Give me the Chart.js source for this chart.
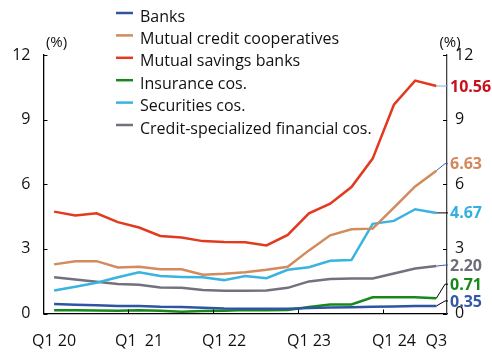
<!DOCTYPE html>
<html>
<head>
<meta charset="utf-8">
<script src="https://cdn.jsdelivr.net/npm/chart.js@4/dist/chart.umd.min.js"></script>
<style>
    html, body { margin: 0; padding: 0; background: #fff; }
    #wrap { width: 492px; height: 353px; }
</style>
</head>
<body>
<div id="wrap"><canvas id="chart" width="492" height="353"></canvas></div>
<script>
// Quarters from Q1 2020 to Q3 2024, only some are labelled
const quarters = ['Q1 20', '', '', '', 'Q1  21', '', '', '', 'Q1 22', '', '', '', 'Q1 23', '', '', '', 'Q1 24', '', 'Q3'];

const seriesNames = [
    'Banks',
    'Mutual credit cooperatives',
    'Mutual savings banks',
    'Insurance cos.',
    'Securities cos.',
    'Credit-specialized financial cos.'
];

// Values in %
const banks = [0.44, 0.41, 0.38, 0.35, 0.35, 0.31, 0.30, 0.27, 0.23, 0.22, 0.22, 0.22, 0.25, 0.28, 0.29, 0.31, 0.32, 0.35, 0.35];
const mutualCredit = [2.28, 2.43, 2.43, 2.14, 2.17, 2.05, 2.05, 1.80, 1.84, 1.92, 2.03, 2.17, 2.93, 3.63, 3.91, 3.94, 4.92, 5.90, 6.63];
const mutualSavings = [4.73, 4.55, 4.65, 4.24, 3.99, 3.60, 3.53, 3.36, 3.32, 3.31, 3.16, 3.65, 4.65, 5.10, 5.87, 7.19, 9.69, 10.81, 10.56];
const insurance = [0.15, 0.15, 0.14, 0.13, 0.15, 0.13, 0.08, 0.12, 0.13, 0.16, 0.15, 0.16, 0.30, 0.42, 0.42, 0.75, 0.75, 0.75, 0.71];
const securities = [1.07, 1.24, 1.43, 1.68, 1.91, 1.74, 1.70, 1.68, 1.55, 1.74, 1.64, 2.03, 2.15, 2.45, 2.48, 4.16, 4.30, 4.84, 4.67];
const creditSpecialized = [1.68, 1.58, 1.47, 1.37, 1.33, 1.21, 1.19, 1.09, 1.06, 1.06, 1.07, 1.19, 1.49, 1.60, 1.63, 1.63, 1.86, 2.09, 2.20];

const endLabels = ['0.35', '6.63', '10.56', '0.71', '4.67', '2.20'];
const yTicks = [0, 3, 6, 9, 12];

const seriesData = [banks, mutualCredit, mutualSavings, insurance, securities, creditSpecialized];
const lineColors = ['#2f55a2', '#d38a5c', '#e2391f', '#17891a', '#3ab3e0', '#72717d'];
const labelColors = ['#3458a6', '#d3875a', '#c7111b', '#17891a', '#34afe0', '#6e6d79'];
const connectorColors = ['#000', '#3a5fb0', '#8fa8d0', '#000', '#000', '#3a5fb0'];
const labelNudge = [-5, -7, 0, -14, 0, -1];   // px, to keep end labels apart

const FONT = '"Open Sans", "Noto Sans", sans-serif';

// Legend drawn over the plot, top left
const overlayLegend = {
    id: 'overlayLegend',
    afterDraw(chart) {
        const ctx = chart.ctx;
        ctx.save();
        ctx.font = '16px ' + FONT;
        ctx.fillStyle = '#111';
        ctx.textBaseline = 'alphabetic';
        ctx.textAlign = 'left';
        chart.data.datasets.forEach((ds, i) => {
            const y = 13 + i * 22.4;
            ctx.strokeStyle = ds.borderColor;
            ctx.lineWidth = 2.5;
            ctx.beginPath();
            ctx.moveTo(116, y);
            ctx.lineTo(133, y);
            ctx.stroke();
            ctx.fillText(ds.label, 140, y + 8.5);
        });
        ctx.restore();
    }
};

// Inward tick marks, unit labels, end labels with connectors
const axisDecor = {
    id: 'axisDecor',
    afterDraw(chart) {
        const ctx = chart.ctx;
        const x = chart.scales.x;
        const y = chart.scales.y;
        const area = chart.chartArea;
        ctx.save();
        ctx.strokeStyle = '#000';
        ctx.lineWidth = 1;
        ctx.beginPath();
        yTicks.forEach(v => {
            const py = Math.round(y.getPixelForValue(v)) + 0.5;
            ctx.moveTo(area.left, py);
            ctx.lineTo(area.left + 4, py);
            ctx.moveTo(area.right - 4, py);
            ctx.lineTo(area.right, py);
        });
        quarters.forEach((q, i) => {
            if (i > 0 && q.startsWith('Q1')) {
                const px = Math.round((x.getPixelForValue(i - 1) + x.getPixelForValue(i)) / 2) + 0.5;
                ctx.moveTo(px, area.bottom);
                ctx.lineTo(px, area.bottom - 4);
            }
        });
        ctx.stroke();

        ctx.fillStyle = '#111';
        ctx.font = '15px ' + FONT;
        ctx.textAlign = 'center';
        ctx.textBaseline = 'middle';
        ctx.fillText('(%)', area.left + 13, 43);
        ctx.fillText('(%)', area.right + 3, 43);

        const last = quarters.length - 1;
        const lastX = x.getPixelForValue(last);
        ctx.font = 'bold 16px ' + FONT;
        ctx.textAlign = 'left';
        seriesData.forEach((arr, i) => {
            const vy = y.getPixelForValue(arr[last]);
            const ly = vy + labelNudge[i];
            ctx.strokeStyle = connectorColors[i];
            ctx.lineWidth = 1;
            ctx.beginPath();
            ctx.moveTo(lastX, vy);
            ctx.lineTo(area.right - 2, ly);
            ctx.lineTo(area.right + 1, ly);
            ctx.stroke();
            ctx.fillStyle = labelColors[i];
            ctx.fillText(endLabels[i], area.right + 3, ly + 1);
        });
        ctx.restore();
    }
};

function yAxis(position, width, color) {
    return {
        position: position,
        min: 0,
        max: 12,
        afterBuildTicks: scale => { scale.ticks = yTicks.map(v => ({ value: v })); },
        afterFit: scale => { scale.width = width; },
        grid: { display: false, drawTicks: false },
        border: { display: true, color: color, width: 1.3 },
        ticks: {
            padding: position === 'left' ? 13 : 8,
            color: '#111',
            font: { family: FONT, size: 16 }
        }
    };
}

document.addEventListener('DOMContentLoaded', function() {
    const ctx = document.getElementById('chart').getContext('2d');
    new Chart(ctx, {
        type: 'line',
        data: {
            labels: quarters,
            datasets: seriesData.map((arr, i) => ({
                label: seriesNames[i],
                data: arr,
                borderColor: lineColors[i],
                backgroundColor: lineColors[i],
                borderWidth: 2.5,
                pointRadius: 0,
                tension: 0,
                yAxisID: 'y'
            }))
        },
        options: {
            responsive: false,
            animation: false,
            devicePixelRatio: 1,
            layout: { padding: { top: 55, left: 0, right: 0, bottom: 0 } },
            plugins: {
                legend: { display: false },
                tooltip: { enabled: false }
            },
            scales: {
                x: {
                    offset: true,
                    afterFit: scale => { scale.height = 39.5; },
                    grid: { display: false, drawTicks: false },
                    border: { display: true, color: '#000', width: 1.3 },
                    ticks: {
                        autoSkip: false,
                        maxRotation: 0,
                        padding: 18,
                        color: '#111',
                        font: { family: FONT, size: 16 }
                    }
                },
                y: yAxis('left', 43.5, '#000'),
                y2: yAxis('right', 45, '#444')
            }
        },
        plugins: [overlayLegend, axisDecor]
    });
});
</script>
</body>
</html>
